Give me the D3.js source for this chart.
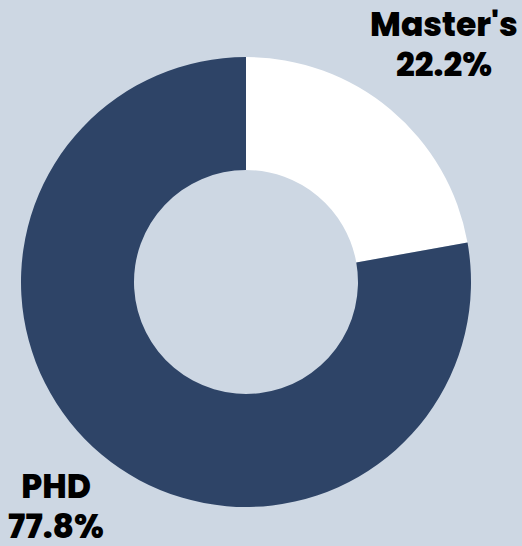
<!DOCTYPE html>
<html>
<head>
<meta charset="utf-8">
<script src="https://cdn.jsdelivr.net/npm/d3@7"></script>
<style>
  html, body { margin: 0; padding: 0; background: #cdd7e3; }
</style>
</head>
<body>
<div id="chart"></div>
<script>
// degree split
const categories = ["Master's", "PHD"];
const shares = [22.2, 77.8];
const colors = ["#ffffff", "#2e4467"];

const width = 522, height = 546;
const cx = 246, cy = 282;
const outer = 225, inner = 112;

const svg = d3.select("#chart").append("svg")
    .attr("width", width)
    .attr("height", height)
    .style("font-family", "Poppins, Inter, 'Open Sans', sans-serif");

const g = svg.append("g")
    .attr("transform", `translate(${cx},${cy})`);

const data = categories.map((c, i) => ({ name: c, value: shares[i], color: colors[i] }));

const pie = d3.pie()
    .sort(null)
    .value(d => d.value);

const arc = d3.arc()
    .innerRadius(inner)
    .outerRadius(outer);

// labels sit well outside the ring at the slice's middle angle
const labelArc = d3.arc()
    .innerRadius(302)
    .outerRadius(302);

const arcs = pie(data);

g.selectAll("path")
    .data(arcs)
    .join("path")
    .attr("d", arc)
    .attr("fill", d => d.data.color);

const label = g.selectAll("text")
    .data(arcs)
    .join("text")
    .attr("text-anchor", "middle")
    .attr("fill", "#000")
    .style("font-size", "33px")
    .style("font-weight", 800)
    .attr("transform", d => {
        let [x, y] = labelArc.centroid(d);
        return `translate(${x + 4},${y})`;
    });

label.append("tspan")
    .attr("x", 0)
    .attr("dy", -15)
    .text(d => d.data.name);

label.append("tspan")
    .attr("x", 0)
    .attr("dy", 40)
    .text(d => d3.format(".1f")(d.data.value) + "%");
</script>
</body>
</html>
